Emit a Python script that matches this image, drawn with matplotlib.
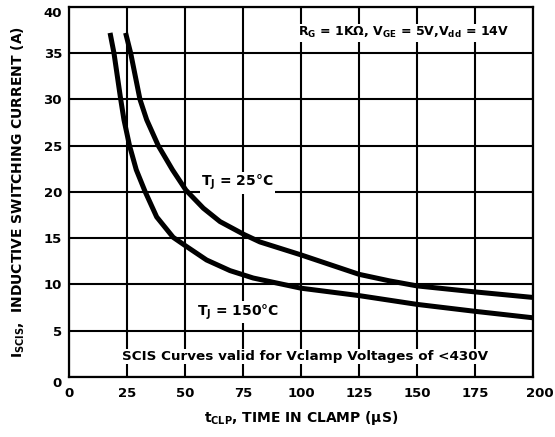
import numpy as np
import matplotlib
matplotlib.use('Agg')
import matplotlib.pyplot as plt
import matplotlib.transforms as mtransforms

plt.rcParams['font.family'] = ['DejaVu Sans']
plt.rcParams['font.weight'] = 'bold'
plt.rcParams['axes.labelweight'] = 'bold'
plt.rcParams['mathtext.fontset'] = 'custom'
plt.rcParams['mathtext.rm'] = 'DejaVu Sans:bold'
plt.rcParams['mathtext.it'] = 'DejaVu Sans:bold'
plt.rcParams['mathtext.bf'] = 'DejaVu Sans:bold'
plt.rcParams['mathtext.default'] = 'rm'

# curve points
t_25 = [24.4, 26.6, 30.6, 33.5, 38.5, 44.6, 50.4, 57.9, 65.1, 75.5, 82.3,
        100.0, 125.0, 138.0, 150.0, 175.0, 200.0]
i_25 = [37.2, 35.0, 30.0, 27.8, 25.0, 22.4, 20.2, 18.25, 16.8, 15.4, 14.6,
        13.2, 11.1, 10.4, 9.85, 9.2, 8.6]

t_150 = [17.7, 19.4, 22.3, 23.7, 26.1, 29.0, 32.8, 37.8, 44.9, 50.7, 59.3,
         69.4, 79.4, 100.0, 125.0, 150.0, 175.0, 200.0]
i_150 = [37.2, 35.0, 30.0, 27.8, 25.0, 22.4, 20.05, 17.3, 15.1, 14.1, 12.65,
         11.5, 10.7, 9.6, 8.8, 7.85, 7.1, 6.4]

x_ticks = [0, 25, 50, 75, 100, 125, 150, 175, 200]
y_ticks = [0, 5, 10, 15, 20, 25, 30, 35, 40]

fig = plt.figure(figsize=(5.55, 4.37), dpi=100)
ax = fig.add_axes([0.1243, 0.1373, 0.8361, 0.8467])

ax.set_xlim(0, 200)
ax.set_ylim(0, 40)
ax.set_xticks(x_ticks)
ax.set_yticks(y_ticks)
ax.tick_params(length=0, labelsize=9.5)
ax.tick_params(axis='x', pad=7)
ax.tick_params(axis='y', pad=5)
for s in ax.spines.values():
    s.set_linewidth(1.6)
ax.grid(True, color='black', lw=1.5)
ax.set_axisbelow(True)

# end labels sit a bit off the grid lines in the original
xl = ax.get_xticklabels()
shift = mtransforms.ScaledTranslation(7 / 100, 0, fig.dpi_scale_trans)
xl[-1].set_transform(xl[-1].get_transform() + shift)
yl = ax.get_yticklabels()
yl[-1].set_va('top')
yl[0].set_va('top')

ax.plot(t_25, i_25, color='black', lw=3.6, solid_capstyle='butt',
        solid_joinstyle='round', zorder=3)
ax.plot(t_150, i_150, color='black', lw=3.6, solid_capstyle='butt',
        solid_joinstyle='round', zorder=3)

box = dict(facecolor='white', edgecolor='none', pad=1)
ax.text(144, 37.2, 'R$_G$ = 1KΩ, V$_{GE}$ = 5V,V$_{dd}$ = 14V', ha='center',
        va='center', fontsize=9, bbox=box, zorder=4)
ax.text(72.6, 21.0, 'T$_J$ = 25°C', ha='center', va='center', fontsize=10,
        bbox=box, zorder=4)
ax.text(73.0, 7.0, 'T$_J$ = 150°C', ha='center', va='center', fontsize=10,
        bbox=box, zorder=4)
ax.text(101.7, 2.2, 'SCIS Curves valid for Vclamp Voltages of <430V',
        ha='center', va='center', fontsize=9.7, bbox=box, zorder=4)

ax.set_xlabel('t$_{CLP}$, TIME IN CLAMP (µS)', fontsize=10, labelpad=7)
ax.set_ylabel('I$_{SCIS}$,  INDUCTIVE SWITCHING CURRENT (A)', fontsize=10,
              labelpad=12)

fig.savefig('out.png', dpi=100)
